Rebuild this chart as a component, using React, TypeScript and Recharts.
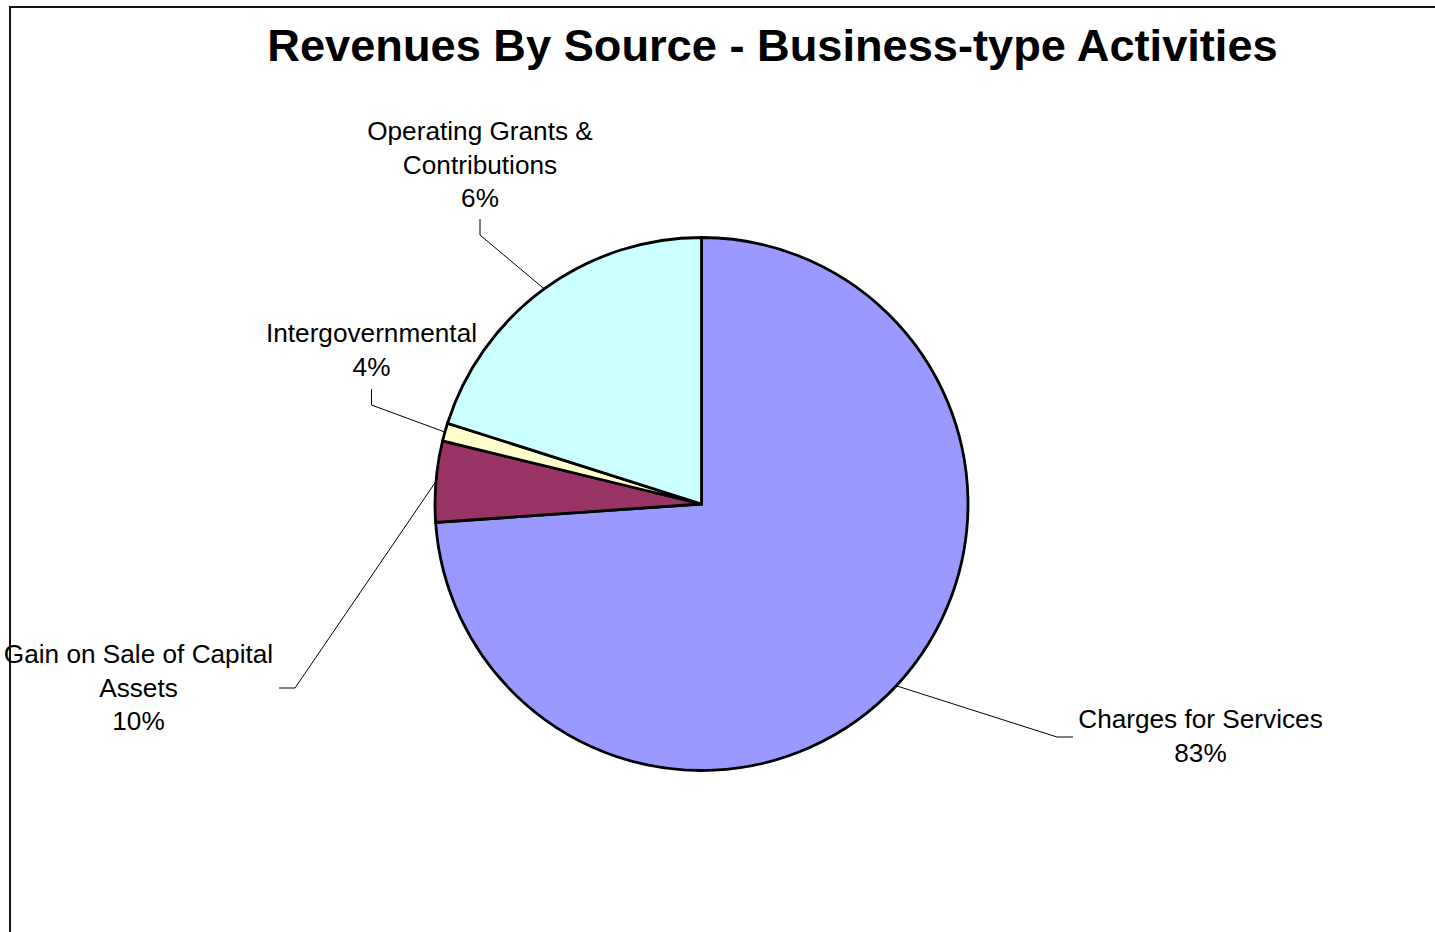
import { PieChart, Pie, Cell } from 'recharts';

// slice shares as drawn (clockwise from 12 o'clock)
const categories = ['Charges for Services', 'Gain on Sale of Capital Assets', 'Intergovernmental', 'Operating Grants & Contributions'];
const sliceValues = [73.9, 4.9, 1.1, 20.1];
// percent text printed on the labels
const labelPercents = ['83%', '10%', '4%', '6%'];
// label text broken into lines
const labelLines = [
  ['Charges for Services'],
  ['Gain on Sale of Capital', 'Assets'],
  ['Intergovernmental'],
  ['Operating Grants &', 'Contributions'],
];
const sliceColors = ['#9999FF', '#993366', '#FFFFCC', '#CCFFFF'];

// label placement relative to pie centre: elbow of leader, end of tail, text centre, first baseline
const LABEL_LAYOUT = [
  { ex: 355.5, ey: 233, tx: 371.5, ty: 233, lx: 499, ly: 224 },
  { ex: -406.5, ey: 184, tx: -422.5, ty: 184, lx: -563, ly: 159 },
  { ex: -330, ey: -99, tx: -330, ty: -115, lx: -330, ly: -162 },
  { ex: -221.5, ey: -269, tx: -221.5, ty: -285, lx: -221.5, ly: -364 },
];

const data = categories.map((name, i) => ({ name, value: sliceValues[i] }));

const FONT = '"Liberation Sans", Arial, sans-serif';
const RADIAN = Math.PI / 180;
const LINE_H = 33.5;

function renderLabel(props: any) {
  const { cx, cy, midAngle, outerRadius, index } = props;
  const lay = LABEL_LAYOUT[index];
  const sx = cx + outerRadius * Math.cos(-midAngle * RADIAN);
  const sy = cy + outerRadius * Math.sin(-midAngle * RADIAN);
  const lines = [...labelLines[index], labelPercents[index]];
  return (
    <g key={`lbl-${index}`}>
      <polyline
        points={`${sx},${sy} ${cx + lay.ex},${cy + lay.ey} ${cx + lay.tx},${cy + lay.ty}`}
        fill="none"
        stroke="#000"
        strokeWidth={1}
      />
      <text x={cx + lay.lx} y={cy + lay.ly} textAnchor="middle" fontFamily={FONT} fontSize={26.2} fill="#000">
        {lines.map((l, k) => (
          <tspan key={k} x={cx + lay.lx} dy={k === 0 ? 0 : LINE_H}>
            {l}
          </tspan>
        ))}
      </text>
    </g>
  );
}

export default function App() {
  return (
    <div style={{ position: 'absolute', left: 0, top: 0, width: 1435, height: 932, overflow: 'hidden', background: '#fff' }}>
      <div
        style={{
          position: 'absolute',
          left: 8.5,
          top: 6,
          width: 1460,
          height: 960,
          border: '2.5px solid #111',
          boxSizing: 'border-box',
        }}
      />
      <svg width={1435} height={100} style={{ position: 'absolute', left: 0, top: 0 }}>
        <text x={772.5} y={61} textAnchor="middle" fontFamily={FONT} fontWeight="bold" fontSize={45.2} fill="#000">
          Revenues By Source - Business-type Activities
        </text>
      </svg>
      <div style={{ position: 'absolute', left: 0, top: 0 }}>
        <PieChart width={1435} height={932} margin={{ top: 0, right: 0, bottom: 0, left: 0 }}>
          <Pie
            data={data}
            dataKey="value"
            nameKey="name"
            cx={701.5}
            cy={504}
            outerRadius={266.5}
            startAngle={90}
            endAngle={-270}
            stroke="#000"
            strokeWidth={2.8}
            label={renderLabel}
            labelLine={false}
            isAnimationActive={false}
          >
            {data.map((d, i) => (
              <Cell key={d.name} fill={sliceColors[i]} stroke="#000" strokeWidth={2.8} />
            ))}
          </Pie>
        </PieChart>
      </div>
    </div>
  );
}
